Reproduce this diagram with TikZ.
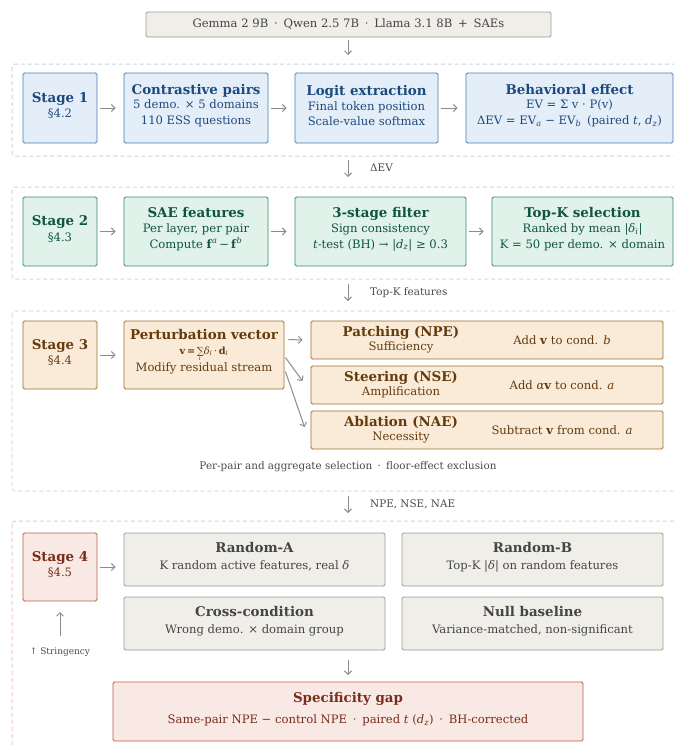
\documentclass[tikz,border=0pt]{standalone}
\usepackage{fontspec}
\setmainfont{DejaVu Serif}
\usetikzlibrary{arrows.meta,calc}
\definecolor{bFill}{HTML}{E4EEF9}
\definecolor{bBorder}{HTML}{4A7DB3}
\definecolor{bText}{HTML}{1C4A7E}
\definecolor{bDash}{HTML}{C5D5E4}
\definecolor{gFill}{HTML}{E1F2EB}
\definecolor{gBorder}{HTML}{3C8A6A}
\definecolor{gText}{HTML}{0F5440}
\definecolor{gDash}{HTML}{C4E0D4}
\definecolor{tFill}{HTML}{FAEBD8}
\definecolor{tBorder}{HTML}{A0702E}
\definecolor{tText}{HTML}{643B0C}
\definecolor{tDash}{HTML}{ECDAC4}
\definecolor{kFill}{HTML}{F0EEE9}
\definecolor{kBorder}{HTML}{9C9A92}
\definecolor{kText}{HTML}{444444}
\definecolor{rFill}{HTML}{F9E9E5}
\definecolor{rBorder}{HTML}{B65E4A}
\definecolor{rText}{HTML}{7A2C1A}
\definecolor{rDash}{HTML}{EFCBC2}
\definecolor{arrG}{HTML}{8C8C8C}
\definecolor{lblG}{HTML}{4A4A4A}
\newcommand\BoxTitle[1]{{\fontsize{13.4}{15}\selectfont\bfseries #1}}
\newcommand\isub[1]{\textsubscript{\itshape #1}}
% #1 style, #2 name, #3 centre, #4 width, #5 height, #6 text
\newcommand\boxnode[6]{%
  \node[#1, minimum width=#4pt, minimum height=#5pt] (#2) at (#3) {};
  \node[#1, draw=none, fill=none, minimum width=0pt, minimum height=0pt, inner sep=0pt]
    (#2t) at ($(#2.center)+(0,-2.5)$) {#6};}
\begin{document}
\begin{tikzpicture}[x=1pt,y=-1pt,
  box/.style={draw, line width=0.9pt, rounded corners=1.5pt, align=center, inner sep=2pt,
    font=\fontsize{11.6}{15.8}\selectfont},
  bluebox/.style={box, draw=bBorder, fill=bFill, text=bText},
  greenbox/.style={box, draw=gBorder, fill=gFill, text=gText},
  tanbox/.style={box, draw=tBorder, fill=tFill, text=tText},
  graybox/.style={box, draw=kBorder, fill=kFill, text=kText},
  redbox/.style={box, draw=rBorder, fill=rFill, text=rText},
  container/.style={line width=1pt, dash pattern=on 4pt off 3pt, rounded corners=3pt},
  flow/.style={draw=arrG, line width=1pt, -{Straight Barb[length=3.5pt,width=7pt,line width=1pt]}},
  lbl/.style={font=\fontsize{10.4}{12}\selectfont, text=lblG, anchor=west, inner sep=0pt},
  plain/.style={inner sep=0pt, align=center}
]
\useasboundingbox (0,0) rectangle (674,747);
\clip (0,0) rectangle (674,747);
\fill[white] (0,0) rectangle (674,747);

% top
\node[graybox, minimum width=405pt, minimum height=25pt, inner sep=0pt] (top) at (348.5,24.5)
  {Gemma 2 9B\enspace·\enspace Qwen 2.5 7B\enspace·\enspace Llama 3.1 8B\enspace+\enspace SAEs};

% containers
\draw[container, draw=bDash] (12,64) rectangle (700,156);
\draw[container, draw=gDash] (12,187) rectangle (700,279);
\draw[container, draw=tDash] (12,311) rectangle (700,491);
\draw[container, draw=rDash] (12,521) rectangle (700,780);

\coordinate (c1top) at (348,40);
\coordinate (c1bot) at (348,55);
\draw[flow] (c1top) -- (c1bot);

% Stage 1
\boxnode{bluebox}{s1}{60,108}{74}{70}{\BoxTitle{Stage 1}\\ §4.2}
\boxnode{bluebox}{cp}{196,108}{144}{70}{\BoxTitle{Contrastive pairs}\\[-1pt] 5 demo. × 5 domains\\ 110 ESS questions}
\boxnode{bluebox}{le}{366.5,108}{143}{70}{\BoxTitle{Logit extraction}\\[-1pt] Final token position\\ Scale-value softmax}
\boxnode{bluebox}{be}{569.5,108}{207}{70}{\BoxTitle{Behavioral effect}\\[-1pt] EV = Σ v · P(v)\\ ΔEV = EV\isub{a} − EV\isub{b}\enspace(paired \textit{t}, \textit{d}\isub{z})}
\draw[flow, shorten <=3pt, shorten >=8pt] (s1) -- (cp);
\draw[flow, shorten <=3pt, shorten >=8pt] (cp) -- (le);
\draw[flow, shorten <=3pt, shorten >=8pt] (le) -- (be);

\coordinate (a2top) at (348,160);
\coordinate (a2bot) at (348,177);
\draw[flow] (a2top) -- (a2bot);
\node[lbl] (l2) at (370,168) {ΔEV};

% Stage 2
\boxnode{greenbox}{s2}{60,231.5}{74}{69}{\BoxTitle{Stage 2}\\ §4.3}
\boxnode{greenbox}{sae}{196,231.5}{144}{69}{\BoxTitle{SAE features}\\[-1pt] Per layer, per pair\\ Compute \textbf{f}\textsuperscript{\itshape a}\,−\,\textbf{f}\textsuperscript{\itshape b}}
\boxnode{greenbox}{flt}{380.5,231.5}{171}{69}{\BoxTitle{3-stage filter}\\[-1pt] Sign consistency\\ \textit{t}-test (BH) → |\textit{d}\isub{z}| ≥ 0.3}
\boxnode{greenbox}{topk}{582.5,231.5}{181}{69}{\BoxTitle{Top-K selection}\\[-1pt] Ranked by mean |\textit{δ}\isub{i}|\\ K = 50 per demo. × domain}
\draw[flow, shorten <=3pt, shorten >=8pt] (s2) -- (sae);
\draw[flow, shorten <=3pt, shorten >=8pt] (sae) -- (flt);
\draw[flow, shorten <=3pt, shorten >=8pt] (flt) -- (topk);

\coordinate (a3top) at (348,284);
\coordinate (a3bot) at (348,301);
\draw[flow] (a3top) -- (a3bot);
\node[lbl] (l3) at (370,293) {Top-K features};

% Stage 3
\boxnode{tanbox}{s3}{60,355}{74}{68}{\BoxTitle{Stage 3}\\ §4.4}
\node[tanbox, minimum width=160pt, minimum height=68pt] (pv) at (204,355) {};
\node[plain, text=tText] (pvt) at (204,334.5) {\BoxTitle{Perturbation vector}};
\node[plain, text=tText, font=\fontsize{9.8}{11}\selectfont, anchor=base] (pvf) at (204,354)
  {\textbf{v\,=\,}∑\kern-5pt\raisebox{-6pt}{\fontsize{6}{6}\selectfont\itshape i}\kern 3pt\textit{δ}\isub{i}\,·\,\textbf{d}\isub{i}};
\node[plain, text=tText, font=\fontsize{11.6}{13}\selectfont] (pvs) at (204,368.5) {Modify residual stream};

\node[tanbox, minimum width=352pt, minimum height=38pt] (np) at (487,340) {};
\node[tanbox, minimum width=352pt, minimum height=38pt] (ns) at (487,385) {};
\node[tanbox, minimum width=352pt, minimum height=38pt] (na) at (487,430) {};
\node[plain, text=tText, font=\fontsize{11.6}{15}\selectfont] (npt) at (401,339.5) {\BoxTitle{Patching (NPE)}\\[-1pt] Sufficiency};
\node[plain, text=tText, font=\fontsize{11.6}{15}\selectfont] (nst) at (401,384.5) {\BoxTitle{Steering (NSE)}\\[-1pt] Amplification};
\node[plain, text=tText, font=\fontsize{11.6}{15}\selectfont] (nat) at (401,429.5) {\BoxTitle{Ablation (NAE)}\\[-1pt] Necessity};
\node[plain, text=tText, font=\fontsize{11.6}{13}\selectfont] (npr) at (562,340) {Add \textbf{v} to cond. \textit{b}};
\node[plain, text=tText, font=\fontsize{11.6}{13}\selectfont] (nsr) at (562,385) {Add \textit{α}\textbf{v} to cond. \textit{a}};
\node[plain, text=tText, font=\fontsize{11.6}{13}\selectfont] (nar) at (562,430) {Subtract \textbf{v} from cond. \textit{a}};

\draw[flow, shorten <=3pt, shorten >=8pt] (s3) -- (pv);
\draw[flow] ($(pv.north east)+(4,19)$) coordinate (po1) -- ($(np.west)+(-8,0)$);
\draw[flow] ($(pv.north east)+(1,37)$) coordinate (po2) -- ($(ns.west)+(-8,-4)$);
\draw[flow] ($(pv.north east)+(1,51)$) coordinate (po3) -- ($(na.west)+(-6,-3)$);

\node[plain, text=lblG, font=\fontsize{10.4}{12}\selectfont] (cap3) at (348,467)
  {Per-pair and aggregate selection\enspace·\enspace floor-effect exclusion};

\coordinate (a4top) at (348,496);
\coordinate (a4bot) at (348,513);
\draw[flow] (a4top) -- (a4bot);
\node[lbl] (l4) at (370,504) {NPE, NSE, NAE};

% Stage 4
\boxnode{redbox}{s4}{60,567}{74}{68}{\BoxTitle{Stage 4}\\ §4.5}
\boxnode{graybox}{ra}{254.5,559.5}{261}{53}{\BoxTitle{Random-A}\\[1pt] K random active features, real \textit{δ}}
\boxnode{graybox}{rb}{532.5,559.5}{261}{53}{\BoxTitle{Random-B}\\[1pt] Top-K |\textit{δ}| on random features}
\boxnode{graybox}{cc}{254.5,623.5}{261}{53}{\BoxTitle{Cross-condition}\\[1pt] Wrong demo. × domain group}
\boxnode{graybox}{nb}{532.5,623.5}{261}{53}{\BoxTitle{Null baseline}\\[1pt] Variance-matched, non-significant}
\draw[flow, shorten <=3pt, shorten >=8pt] (s4.east) -- (s4.east -| ra.west);

\coordinate (stl) at (60,636);
\coordinate (sth) at (60,612);
\draw[flow] (stl) -- (sth);
\node[plain, text=lblG, font=\fontsize{9}{10}\selectfont] (strg) at (60,652) {↑ Stringency};

\coordinate (a5top) at (348,660);
\coordinate (a5bot) at (348,675);
\draw[flow] (a5top) -- (a5bot);

\boxnode{redbox}{sg}{348,711.5}{470}{59}{\BoxTitle{Specificity gap}\\[5pt] Same-pair NPE − control NPE\enspace·\enspace paired \textit{t} (\textit{d}\isub{z})\enspace·\enspace BH-corrected}
\end{tikzpicture}
\end{document}
